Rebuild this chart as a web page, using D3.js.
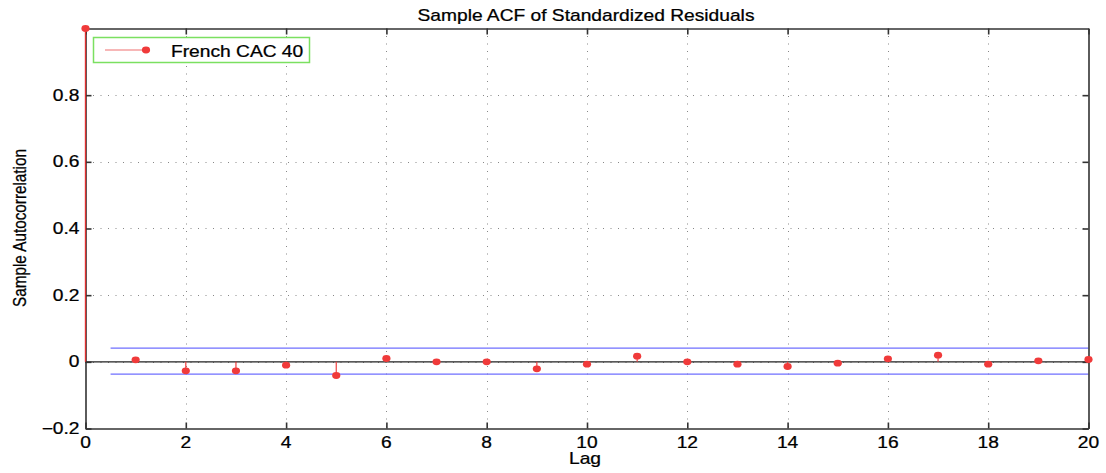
<!DOCTYPE html>
<html>
<head>
  <meta charset="utf-8">
  <title>Sample ACF</title>
  <style>
    body { margin: 0; background: #fff; }
    text { font-family: "Liberation Sans", Arial, sans-serif; fill: #000; stroke: #000; stroke-width: 0.25; }
    .grid line { stroke: #888; stroke-dasharray: 1,6.5; stroke-width: 1; }
  </style>
</head>
<body>
  <script src="https://cdn.jsdelivr.net/npm/d3@7"></script>
  <script>
    var lags = [0, 1, 2, 3, 4, 5, 6, 7, 8, 9, 10, 11, 12, 13, 14, 15, 16, 17, 18, 19, 20];
    var acf = [1, 0.006, -0.027, -0.027, -0.01, -0.041, 0.01, 0.0, 0.0, -0.021, -0.007,
               0.017, 0.0, -0.007, -0.014, -0.004, 0.009, 0.02, -0.007, 0.003, 0.007];
    var bounds = [0.041, -0.037];
    var boundRange = [0.5, 20];
    var xTicks = [0, 2, 4, 6, 8, 10, 12, 14, 16, 18, 20];
    var yTicks = [-0.2, 0, 0.2, 0.4, 0.6, 0.8];
    var seriesName = 'French CAC 40';

    var W = 1106, H = 473;
    var margin = { top: 28.5, right: 17.5, bottom: 44.5, left: 85.5 };
    var SX = 1.2; // the text in the picture is stretched sideways

    var svg = d3.select('body').append('svg')
      .attr('width', W)
      .attr('height', H);

    var x = d3.scaleLinear().domain([0, 20]).range([margin.left, W - margin.right]);
    var y = d3.scaleLinear().domain([-0.2, 1]).range([H - margin.bottom, margin.top]);

    // stretched text helper
    function label(g, px, py, str, size, anchor) {
      return g.append('text')
        .attr('transform', 'translate(' + px + ',' + py + ') scale(' + SX + ',1)')
        .attr('text-anchor', anchor || 'start')
        .attr('font-size', size)
        .text(str);
    }

    // grid
    var grid = svg.append('g').attr('class', 'grid');
    grid.selectAll('.gx').data(xTicks.slice(1, -1)).enter().append('line')
      .attr('x1', function(d) { return Math.round(x(d)) + 0.5; })
      .attr('x2', function(d) { return Math.round(x(d)) + 0.5; })
      .attr('y1', y(1)).attr('y2', y(-0.2));
    grid.selectAll('.gy').data(yTicks.slice(1)).enter().append('line')
      .attr('y1', function(d) { return Math.round(y(d)) + 0.5; })
      .attr('y2', function(d) { return Math.round(y(d)) + 0.5; })
      .attr('x1', x(0)).attr('x2', x(20));

    // confidence bounds
    svg.selectAll('.bound').data(bounds).enter().append('line')
      .attr('x1', x(boundRange[0])).attr('x2', x(boundRange[1]))
      .attr('y1', function(d) { return y(d); })
      .attr('y2', function(d) { return y(d); })
      .attr('stroke', '#6f6fff').attr('stroke-width', 1.2);

    // zero line
    svg.append('line')
      .attr('x1', x(0)).attr('x2', x(20))
      .attr('y1', y(0)).attr('y2', y(0))
      .attr('stroke', '#222').attr('stroke-width', 1.3);

    // stems
    svg.selectAll('.stem').data(lags).enter().append('line')
      .attr('x1', function(d) { return x(d); })
      .attr('x2', function(d) { return x(d); })
      .attr('y1', y(0))
      .attr('y2', function(d, i) { return y(acf[i]); })
      .attr('stroke', '#f04040').attr('stroke-width', 1.2);

    // frame axes with inward ticks
    var frame = svg.append('g');
    var axisBottom = d3.axisBottom(x).tickValues(xTicks).tickSizeInner(-6).tickSizeOuter(0).tickFormat('');
    var axisTop = d3.axisTop(x).tickValues(xTicks).tickSizeInner(-6).tickSizeOuter(0).tickFormat('');
    var axisLeft = d3.axisLeft(y).tickValues(yTicks).tickSizeInner(-6).tickSizeOuter(0).tickFormat('');
    var axisRight = d3.axisRight(y).tickValues(yTicks).tickSizeInner(-6).tickSizeOuter(0).tickFormat('');

    frame.append('g').attr('transform', 'translate(0,' + y(-0.2) + ')').call(axisBottom);
    frame.append('g').attr('transform', 'translate(0,' + y(1) + ')').call(axisTop);
    frame.append('g').attr('transform', 'translate(' + x(0) + ',0)').call(axisLeft);
    frame.append('g').attr('transform', 'translate(' + x(20) + ',0)').call(axisRight);
    frame.selectAll('path, line').attr('stroke', '#333').attr('stroke-width', 1.6);
    frame.selectAll('text').remove();

    // tick labels
    var fmtY = function(d) { return d === 0 ? '0' : d3.format('.1f')(d).replace('-', '\u2212'); };
    xTicks.forEach(function(d) {
      label(svg, x(d), y(-0.2) + 19, d3.format('d')(d), 16, 'middle');
    });
    yTicks.forEach(function(d) {
      label(svg, x(0) - 6, y(d) + 5.5, fmtY(d), 16, 'end');
    });

    // red stem at lag 0 drawn over the left axis
    svg.append('line')
      .attr('x1', x(0)).attr('x2', x(0))
      .attr('y1', y(0)).attr('y2', y(acf[0]))
      .attr('stroke', '#e03030').attr('stroke-width', 1.2);

    // markers
    svg.selectAll('.pt').data(lags).enter().append('ellipse')
      .attr('cx', function(d) { return x(d); })
      .attr('cy', function(d, i) { return y(acf[i]); })
      .attr('rx', 4.1).attr('ry', 3.4)
      .attr('fill', '#f03a3a');

    // legend
    var lg = svg.append('g');
    lg.append('rect').attr('x', 93.5).attr('y', 37.5).attr('width', 216).attr('height', 25)
      .attr('fill', '#fff').attr('stroke', '#7be060').attr('stroke-width', 1.5);
    lg.append('line').attr('x1', 105).attr('x2', 146).attr('y1', 50).attr('y2', 50)
      .attr('stroke', '#f07070').attr('stroke-width', 1.2);
    lg.append('ellipse').attr('cx', 146).attr('cy', 50).attr('rx', 4.1).attr('ry', 3.4).attr('fill', '#f03a3a');
    label(lg, 171, 57, seriesName, 16);

    // titles
    label(svg, 586, 21, 'Sample ACF of Standardized Residuals', 16, 'middle');
    label(svg, 585, 463.5, 'Lag', 16, 'middle');
    svg.append('text')
      .attr('transform', 'translate(26,228) scale(' + SX + ',1) rotate(-90)')
      .attr('text-anchor', 'middle').attr('font-size', 15.3).text('Sample Autocorrelation');
  </script>
</body>
</html>
